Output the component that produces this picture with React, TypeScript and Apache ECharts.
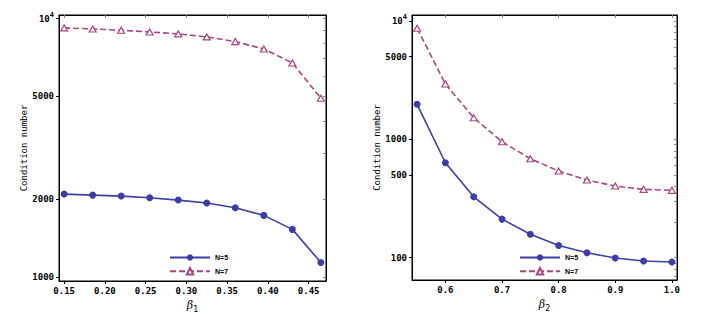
import React, { useEffect, useRef } from "react";
import * as echarts from "echarts";

const leftX = [0.15, 0.185, 0.22, 0.255, 0.29, 0.325, 0.36, 0.395, 0.43, 0.465];
const leftN5 = [2092, 2073, 2055, 2024, 1983, 1931, 1851, 1730, 1527, 1137];
const leftN7 = [9204, 9120, 9015, 8880, 8725, 8495, 8146, 7631, 6735, 4915];

const rightX = [0.55, 0.6, 0.65, 0.7, 0.75, 0.8, 0.85, 0.9, 0.95, 1.0];
const rightN5 = [1975, 634, 327, 212, 158, 127, 110, 99.4, 93.8, 92];
const rightN7 = [8660, 2930, 1522, 954, 686, 540, 453, 403, 378, 371];

const leftXTicks = [0.15, 0.2, 0.25, 0.3, 0.35, 0.4, 0.45];
const leftYTicks = [1000, 2000, 5000, 10000];
const leftYMinor = [1000, 2000, 3000, 4000, 5000, 6000, 7000, 8000, 9000, 10000];
const rightXTicks = [0.6, 0.7, 0.8, 0.9, 1.0];
const rightYTicks = [100, 500, 1000, 5000, 10000];
const rightYMinor = [70, 80, 90, 100, 200, 300, 400, 500, 600, 700, 800, 900, 1000, 2000, 3000, 4000, 5000, 6000, 7000, 8000, 9000, 10000];

const seriesNames = ["N=5", "N=7"];
const xNames = ["1", "2"];
const yName = "Condition number";

const BLUE = "#3d3da6";
const PINK = "#a8457f";
const MONO = "DejaVu Sans Mono";

const lg = (v: number) => Math.log10(v);

function yLabelFmt(v: number) {
  const n = Math.round(Math.pow(10, v));
  return n === 10000 ? "{b|10}{sup|4}" : "{b|" + n + "}";
}

function makeAxes(grid: number, xmin: number, xmax: number, xt: number[], dec: number, ymin: number, ymax: number, yt: number[], ym: number[], sub: string, nameGapY: number) {
  const labelStyle = { fontFamily: MONO, fontWeight: "bold", fontSize: 9, color: "#000" };
  const xAxes = [
    {
      type: "value", gridIndex: grid, position: "bottom", min: xmin, max: xmax,
      axisLine: { show: true, lineStyle: { color: "#000", width: 1 } },
      axisTick: { show: true, inside: false, length: 3, customValues: xt, lineStyle: { color: "#000" } },
      axisLabel: { ...labelStyle, margin: 5, customValues: xt, formatter: (v: number) => v.toFixed(dec) },
      splitLine: { show: false },
      name: "{i|β}{s|" + sub + "}", nameLocation: "middle", nameGap: 18,
      nameTextStyle: {
        rich: {
          i: { fontFamily: "DejaVu Serif", fontStyle: "italic", fontSize: 11, color: "#000", verticalAlign: "top" },
          s: { fontFamily: "DejaVu Sans", fontSize: 8, color: "#000", padding: [6, 0, 0, 0], verticalAlign: "top" },
        },
      },
    },
    {
      type: "value", gridIndex: grid, position: "top", min: xmin, max: xmax,
      axisLine: { show: true, lineStyle: { color: "#000", width: 1 } },
      axisTick: { show: true, inside: true, length: 3, customValues: xt, lineStyle: { color: "#888" } },
      axisLabel: { show: false },
      splitLine: { show: false },
    },
  ];
  const yAxes = [
    {
      type: "value", gridIndex: grid, position: "left", min: ymin, max: ymax,
      axisLine: { show: true, lineStyle: { color: "#000", width: 1 } },
      axisTick: { show: true, inside: false, length: 3, customValues: yt.map(lg), lineStyle: { color: "#000" } },
      axisLabel: {
        margin: 5, customValues: yt.map(lg), formatter: yLabelFmt,
        rich: {
          b: { ...labelStyle },
          sup: { fontFamily: MONO, fontWeight: "bold", fontSize: 7, color: "#000", padding: [0, 0, 7, 0] },
        },
      },
      splitLine: { show: false },
      name: yName, nameLocation: "middle", nameRotate: 90, nameGap: nameGapY,
      nameTextStyle: { fontFamily: MONO, fontSize: 9, color: "#000" },
    },
    {
      type: "value", gridIndex: grid, position: "right", min: ymin, max: ymax,
      axisLine: { show: true, lineStyle: { color: "#000", width: 1 } },
      axisTick: { show: true, inside: true, length: 3, customValues: ym.map(lg), lineStyle: { color: "#888" } },
      axisLabel: { show: false },
      splitLine: { show: false },
    },
  ];
  return { xAxes, yAxes };
}

function makeSeries(name: string, xs: number[], ys: number[], axisIdx: number, isN5: boolean) {
  return {
    type: "line", name,
    xAxisIndex: axisIdx, yAxisIndex: axisIdx,
    data: xs.map((x, i) => [x, lg(ys[i])]),
    symbol: isN5 ? "circle" : "triangle",
    symbolSize: isN5 ? 7 : [7, 6],
    showSymbol: true,
    itemStyle: isN5 ? { color: BLUE } : { color: "#fff", borderColor: PINK, borderWidth: 1.2 },
    lineStyle: isN5 ? { color: BLUE, width: 1.6 } : { color: PINK, width: 1.6, type: [6, 3] },
    z: isN5 ? 3 : 2,
  };
}

export default function App() {
  const ref = useRef<HTMLDivElement>(null);
  useEffect(() => {
    document.body.style.margin = "0";
    if (!ref.current) return;
    const chart = echarts.init(ref.current, undefined, { renderer: "svg" });
    const L = makeAxes(0, 0.1437, 0.4713, leftXTicks, 2, 2.984, 4.014, leftYTicks, leftYMinor, xNames[0], 30);
    const R = makeAxes(1, 0.541, 1.009, rightXTicks, 1, 1.812, 4.05, rightYTicks, rightYMinor, xNames[1], 30);
    const legendBase = {
      orient: "vertical", itemWidth: 40, itemHeight: 8, itemGap: 6,
      textStyle: { fontFamily: "Liberation Sans", fontWeight: "bold", fontSize: 7, color: "#000" },
      data: seriesNames, selectedMode: false,
    };
    chart.setOption({
      animation: false,
      backgroundColor: "#fff",
      grid: [
        { left: 59, top: 15, width: 267, height: 266, show: true, borderColor: "#000", borderWidth: 1, backgroundColor: "transparent" },
        { left: 412, top: 15, width: 265, height: 265, show: true, borderColor: "#000", borderWidth: 1, backgroundColor: "transparent" },
      ],
      legend: [
        { ...legendBase, left: 164, top: 249 },
        { ...legendBase, left: 514, top: 249 },
      ],
      xAxis: [L.xAxes[0], L.xAxes[1], R.xAxes[0], R.xAxes[1]],
      yAxis: [L.yAxes[0], L.yAxes[1], R.yAxes[0], R.yAxes[1]],
      series: [
        makeSeries(seriesNames[0], leftX, leftN5, 0, true),
        makeSeries(seriesNames[1], leftX, leftN7, 0, false),
        makeSeries(seriesNames[0], rightX, rightN5, 2, true),
        makeSeries(seriesNames[1], rightX, rightN7, 2, false),
      ],
    });
    return () => chart.dispose();
  }, []);
  return <div ref={ref} style={{ width: 711, height: 325 }} />;
}
